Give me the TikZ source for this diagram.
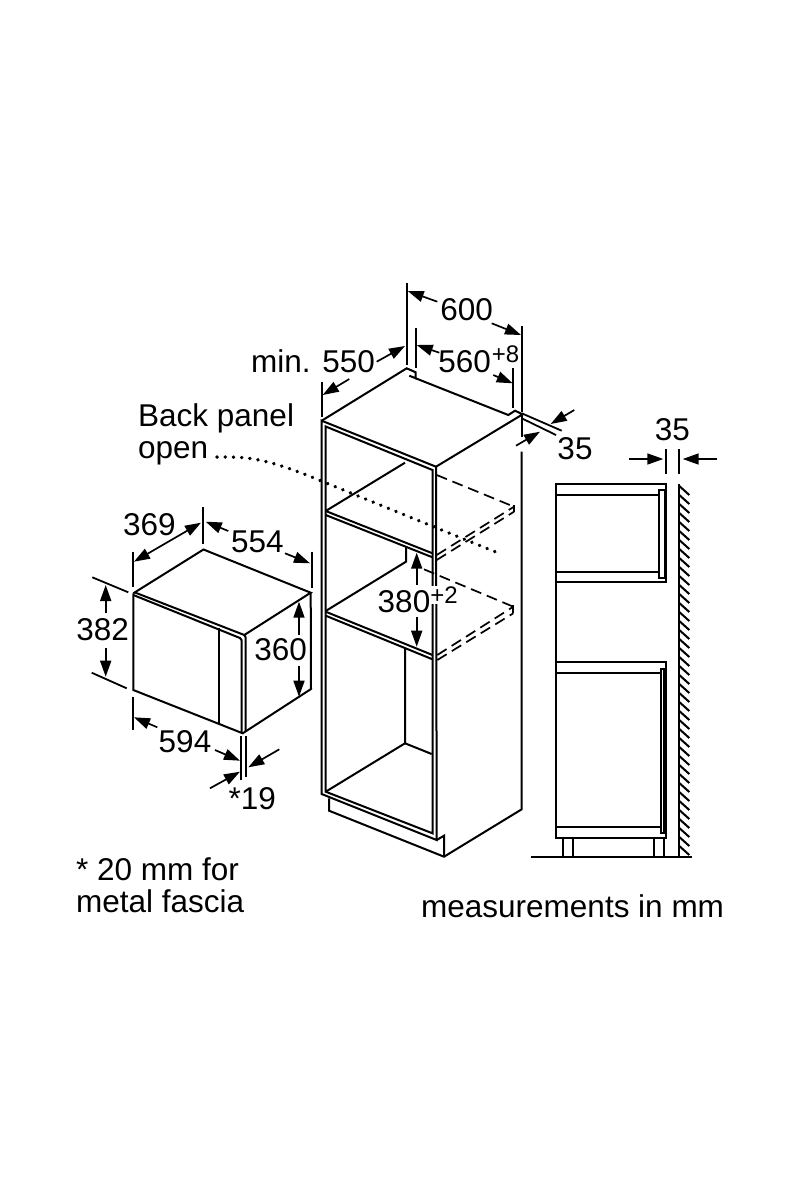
\documentclass[tikz,border=0pt]{standalone}
\usepackage{fontspec}
\setmainfont{Liberation Sans}
\usetikzlibrary{arrows.meta}
\tikzset{
  body/.style={line width=2pt,line join=miter},
  dimline/.style={line width=1.8pt},
  dimarrow/.style={line width=1.7pt,-{Triangle[length=16pt,width=11pt]}},
  dashline/.style={line width=1.7pt,dash pattern=on 11pt off 6pt},
  dimtext/.style={inner sep=0pt,font=\fontsize{31.5}{32}\selectfont},
  suptext/.style={inner sep=0pt,font=\fontsize{24}{26}\selectfont}
}
\begin{document}
\begin{tikzpicture}[x=1pt,y=-1pt]
  \useasboundingbox (0,0) rectangle (800,1200);
  % microwave
  \draw[body] (133.3,593.3) -- (203.5,549.5) -- (310.7,592.7) -- (244.3,635);
  \draw[body] (135,592.5) -- (244.3,635) -- (245.5,637) -- (245.5,731.5);
  \draw[body] (133.3,595) -- (240,638) -- (241.5,640) -- (241.5,733);
  \draw[body] (133.3,593.3) -- (133.3,690) -- (242.7,733.3) -- (311,689) -- (310.7,592.7);
  \draw[body] (218.7,628) -- (218.7,724);
  \draw[dimline] (132.7,551.7) -- (132.7,587);
  \draw[dimline] (203.3,507) -- (203.3,544);
  \draw[dimline] (312.3,551.7) -- (312.3,588);
  \draw[dimline] (92.3,577.3) -- (128.3,592.3);
  \draw[dimline] (91.7,672.7) -- (126.7,688.3);
  \draw[dimline] (133.3,696.7) -- (133.3,730);
  \draw[dimline] (241,736) -- (241,780);
  \draw[dimline] (245.7,736) -- (245.7,777);
  \draw[line width=1.7pt,{Triangle[length=16pt,width=11pt]}-{Triangle[length=16pt,width=11pt]}] (133.9,561.7) -- (201,522.7);
  \draw[dimarrow] (228.3,531) -- (205.7,521.7);
  \draw[dimarrow] (285,553.3) -- (310,563.3);
  \draw[dimarrow] (105.7,613.3) -- (105.7,585);
  \draw[dimarrow] (105.7,648.3) -- (105.7,676.7);
  \draw[dimarrow] (299,635) -- (299,601.7);
  \draw[dimarrow] (299,665.7) -- (299,696.7);
  \draw[dimarrow] (157.3,727.3) -- (134,717.3);
  \draw[dimarrow] (215,750) -- (240,760.7);
  \draw[dimarrow] (210,788.3) -- (240,771.7);
  \draw[dimarrow] (279.3,749.3) -- (248.3,767.3);
  \node[dimtext] (t369) at (149.3,525) {369};
  \node[dimtext] (t554) at (257.3,541.7) {554};
  \node[dimtext] (t382) at (102.7,630) {382};
  \node[dimtext] (t360) at (280.7,649.3) {360};
  \node[dimtext] (t594) at (185,741.7) {594};
  \node[dimtext] (t19) at (252.3,798.3) {*19};
  % cabinet
  \draw[body] (321.7,420.7) -- (406.7,368.3) -- (415.7,372.3) -- (415.7,378.3) -- (409.3,375.7);
  \draw[body] (415.7,378.3) -- (508.3,415) -- (515,410.7) -- (522.7,414.3) -- (436,466.7);
  \draw[body] (321.7,420.7) -- (436,466.7) -- (436.7,840) -- (321.7,794) -- cycle;
  \draw[body] (325.7,426.5) -- (432.5,470) -- (432.5,833.3) -- (325.7,791.7) -- cycle;
  \draw[body] (325.7,511) -- (405,462.7);
  \draw[body] (325.7,511) -- (432.5,553.3);
  \draw[body] (325.7,515) -- (432.5,557.3);
  \draw[body] (406,546.7) -- (406,561.7) -- (325.7,611);
  \draw[body] (325.7,611.7) -- (432.5,655);
  \draw[body] (325.7,615.7) -- (432.5,659.3);
  \draw[body] (405,648.3) -- (405,743.3) -- (431.7,754);
  \draw[body] (405,743.3) -- (325.7,791.7);
  \draw[body] (329,798.3) -- (329,810.7) -- (444,856.7) -- (521.7,809.3) -- (521.7,451.7);
  \draw[body] (521.7,415) -- (521.7,437);
  \draw[body] (436.7,840) -- (444,835.7) -- (444,856.7);
  \draw[dashline] (436.7,475) -- (514,506.7);
  \draw[dashline] (436.7,555) -- (514,506.7);
  \draw[dashline] (436.7,560) -- (514,511.7);
  \draw[dimline] (514,505) -- (514,512);
  \draw[dashline] (424,569.3) -- (513.3,606.7);
  \draw[dashline] (437.3,655) -- (513.3,606.7);
  \draw[dashline] (437.3,660) -- (513.3,613.3);
  \draw[dimline] (513.3,605) -- (513.3,613);
  \draw[line width=3.6pt,line cap=round,dash pattern=on 0.2pt off 8pt] (217,457) .. controls (245,457) and (262,456) .. (323,481.7) -- (495,551.7);
  \draw[dimline] (406.7,283) -- (406.7,365);
  \draw[dimline] (415.7,328) -- (415.7,368);
  \draw[dimline] (521.7,326) -- (521.7,411.7);
  \draw[dimline] (513.3,368) -- (513.3,408);
  \draw[dimline] (321.7,381.7) -- (321.7,416.7);
  \draw[dimline] (521.7,413.3) -- (561.7,430.7);
  \draw[dimline] (521.7,418.3) -- (556,435);
  \draw[dimarrow] (437.3,301.7) -- (407.7,291);
  \draw[dimarrow] (491.7,323.3) -- (521,335);
  \draw[dimarrow] (439.3,352.7) -- (416.7,345);
  \draw[dimarrow] (493.3,375) -- (512.7,383.3);
  \draw[dimarrow] (376.7,361.7) -- (405,346);
  \draw[dimarrow] (349.3,379) -- (322.7,395);
  \draw[dimarrow] (574.3,410) -- (550.7,424);
  \draw[dimarrow] (516,445.7) -- (540,431.7);
  \draw[dimarrow] (416.7,585) -- (416.7,552.7);
  \draw[dimarrow] (416.7,616.7) -- (416.7,646.7);
  \node[dimtext] (t600) at (466.7,309.3) {600};
  \node[dimtext] (t550) at (313,361) {min. 550};
  \node[dimtext] (t560) at (464.7,362) {560};
  \node[suptext] (s560) at (505.5,354) {+8};
  \node[dimtext] (t35a) at (575,448.3) {35};
  \node[suptext,fill=white,inner sep=1pt] (s380) at (444,595) {+2};
  \node[dimtext] (t380) at (404,601.7) {380};
  \node[dimtext,anchor=base west,align=left] (tback) at (138,458) {Back panel\\open};
  % side view
  \draw[body] (666,484) rectangle (556,582.3);
  \draw[body] (556,495) -- (659.3,495);
  \draw[body] (556,571.7) -- (659.3,571.7);
  \draw[body] (659.3,490) rectangle (665,578.3);
  \draw[body] (556,582.3) -- (556,838.3);
  \draw[body] (556,662.3) rectangle (665.7,838.3);
  \draw[body] (556,673) -- (661,673);
  \draw[body] (556,827.3) -- (661,827.3);
  \draw[body] (661,669.3) rectangle (664.3,832.7);
  \foreach \legx in {563.3,573.3,654,664.3}
    \draw[body] (\legx,838.3) -- (\legx,857.3);
  \draw[body] (530.7,857.3) -- (691.7,857.3);
  \draw[body] (679.3,484) -- (679.3,857.3);
  \foreach \haty in {486,495,...,846}
    \draw[body] (679.3,\haty) -- (689.3,\haty+9);
  \draw[dimline] (666,449) -- (666,474);
  \draw[dimline] (679,449) -- (679,474);
  \draw[dimarrow] (629,459) -- (663.3,459);
  \draw[dimarrow] (717.3,459) -- (682.7,459);
  \node[dimtext] (t35b) at (672.3,429.3) {35};
  % notes
  \node[dimtext,anchor=base west,align=left] (tnote) at (76,912) {* 20 mm for\\metal fascia};
  \node[dimtext,anchor=base west] (tunit) at (421,917) {measurements in mm};
\end{tikzpicture}
\end{document}
